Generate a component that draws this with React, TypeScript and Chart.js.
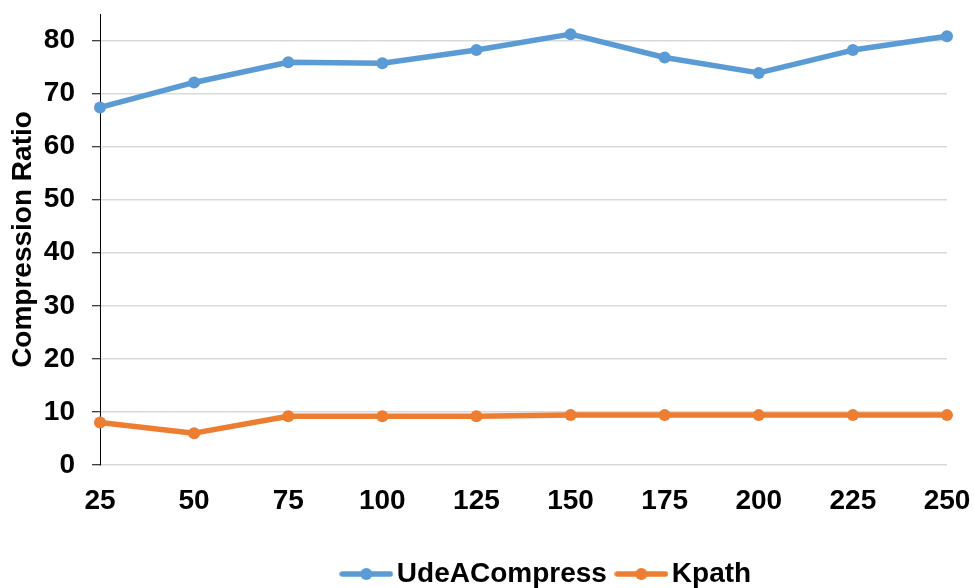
import React, { useEffect, useRef } from "react";
import { Chart, registerables } from "chart.js";

Chart.register(...registerables);

// Series data
const dataPoints = ["25", "50", "75", "100", "125", "150", "175", "200", "225", "250"];
const udeaCompress = [67.4, 72.1, 75.9, 75.7, 78.2, 81.2, 76.8, 73.9, 78.2, 80.8];
const kpath = [8.0, 6.0, 9.2, 9.2, 9.2, 9.4, 9.4, 9.4, 9.4, 9.4];
const yTickValues = [0, 10, 20, 30, 40, 50, 60, 70, 80];
const seriesNames = ["UdeACompress", "Kpath"];
const seriesColors = ["#5B9BD5", "#ED7D31"];
const yTitle = "Compression Ratio";

const FONT = "'Liberation Sans', Arial, sans-serif";

// Legend marker: a short line with a dot in the middle
function makeMarker(color: string): HTMLCanvasElement {
  const c = document.createElement("canvas");
  c.width = 54;
  c.height = 14;
  const ctx = c.getContext("2d")!;
  ctx.strokeStyle = color;
  ctx.lineWidth = 5.5;
  ctx.lineCap = "round";
  ctx.beginPath();
  ctx.moveTo(3, 7);
  ctx.lineTo(51, 7);
  ctx.stroke();
  ctx.fillStyle = color;
  ctx.beginPath();
  ctx.arc(27, 7, 6, 0, Math.PI * 2);
  ctx.fill();
  return c;
}

export default function App() {
  const canvasRef = useRef<HTMLCanvasElement | null>(null);

  useEffect(() => {
    const canvas = canvasRef.current;
    if (!canvas) return;
    const markers = seriesColors.map(makeMarker);

    const legendShift = {
      id: "legendShift",
      afterLayout(chart: any) {
        if (chart.legend) {
          chart.legend.left += 77;
          chart.legend.right += 77;
        }
      },
    };

    const chart = new Chart(canvas, {
      type: "line",
      data: {
        labels: dataPoints,
        datasets: [udeaCompress, kpath].map((values, i) => ({
          label: seriesNames[i],
          data: values,
          borderColor: seriesColors[i],
          backgroundColor: seriesColors[i],
          borderWidth: 5.5,
          borderCapStyle: "round" as const,
          borderJoinStyle: "round" as const,
          pointRadius: 6,
          pointBorderWidth: 0,
          pointBackgroundColor: seriesColors[i],
          tension: 0,
        })),
      },
      options: {
        responsive: false,
        animation: false,
        layout: { padding: { top: 14, right: 27, bottom: -10, left: 0 } },
        plugins: {
          tooltip: { enabled: false },
          legend: {
            position: "bottom",
            labels: {
              usePointStyle: true,
              pointStyleWidth: 33,
              padding: 18,
              color: "#000",
              font: { family: FONT, size: 28, weight: "bold" },
              generateLabels: (c: any) => {
                const items = Chart.defaults.plugins.legend.labels.generateLabels(c);
                return items.map((it: any, i: number) => ({
                  ...it,
                  pointStyle: markers[i],
                }));
              },
            },
          },
        },
        scales: {
          x: {
            type: "category",
            offset: false,
            grid: { display: false, drawTicks: false },
            border: { display: false },
            ticks: {
              color: "#000",
              padding: 19,
              maxRotation: 0,
              autoSkip: false,
              font: { family: FONT, size: 28, weight: "bold" },
            },
            afterFit: (s: any) => {
              s.paddingLeft = 0;
              s.paddingRight = 0;
              const lh = s.chart.legend ? s.chart.legend.height : 0;
              s.height = s.chart.height + 10 - 465 - lh;
            },
          },
          y: {
            min: 0,
            max: 85,
            ticks: {
              color: "#000",
              padding: 17,
              font: { family: FONT, size: 28, weight: "bold" },
            },
            afterBuildTicks: (s: any) => {
              s.ticks = yTickValues.map((v) => ({ value: v }));
            },
            grid: {
              color: "#d9d9d9",
              lineWidth: 1.5,
              tickLength: 8,
              tickColor: "#000",
              tickWidth: 1,
            },
            border: { display: true, color: "#000", width: 1 },
            title: {
              display: true,
              text: yTitle,
              color: "#000",
              padding: { top: 6, bottom: 0 },
              font: { family: FONT, size: 28, weight: "bold" },
            },
            afterFit: (s: any) => {
              s.width = 100;
              s.paddingTop = 0;
              s.paddingBottom = 0;
            },
          },
        },
      },
      plugins: [legendShift],
    } as any);

    return () => chart.destroy();
  }, []);

  return (
    <div style={{ position: "absolute", left: 0, top: 0, width: 974, height: 588, background: "#fff" }}>
      <canvas ref={canvasRef} width={974} height={588} />
    </div>
  );
}
